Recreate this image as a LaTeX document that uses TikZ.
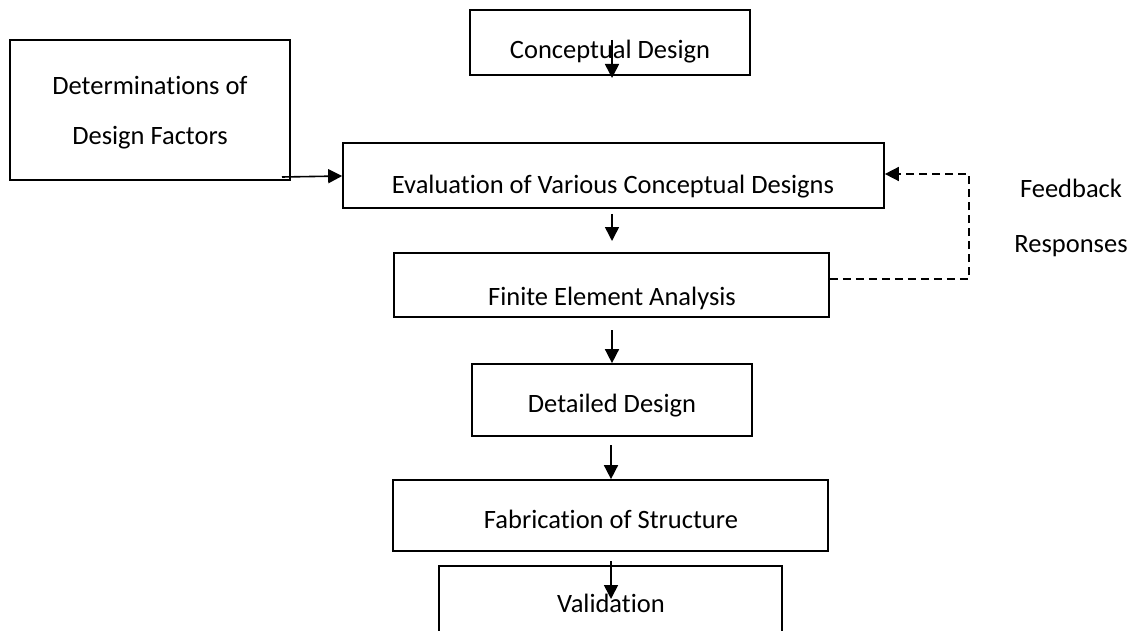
\documentclass[tikz,border=0pt]{standalone}
\usepackage{fontspec}
\setmainfont{Carlito}[Ligatures={NoCommon}]
\usetikzlibrary{arrows.meta}
\begin{document}
\begin{tikzpicture}[x=1pt,y=-1pt,
  box/.style={draw,line width=1.7pt,rectangle,inner sep=0pt},
  lbl/.style={anchor=base,inner sep=0pt,font=\fontsize{26.5}{32}\selectfont},
  arr/.style={line width=1.6pt,-{Triangle[length=14pt,width=14pt]}},
  fb/.style={line width=1.6pt,dash pattern=on 8pt off 5pt}]
\useasboundingbox (0,0) rectangle (1140,631);
% boxes
\node[box,minimum width=280,minimum height=65] (cd) at (610,42.5) {};
\node[box,minimum width=280,minimum height=140] (det) at (150,110) {};
\node[box,minimum width=541,minimum height=65] (ev) at (613.5,175.5) {};
\node[box,minimum width=435,minimum height=64] (fea) at (611.5,285) {};
\node[box,minimum width=280,minimum height=72] (dd) at (612,400) {};
\node[box,minimum width=435,minimum height=71] (fab) at (610.5,515.5) {};
\node[box,minimum width=343,minimum height=100] (val) at (610.5,616) {};
% texts
\node[lbl] (tcd) at (610,59) {Conceptual Design};
\node[lbl] (tdet1) at (150,95) {Determinations of};
\node[lbl] (tdet2) at (150,145) {Design Factors};
\node[lbl] (tev) at (613,194) {Evaluation of Various Conceptual Designs};
\node[lbl] (tfea) at (612,305) {Finite Element Analysis};
\node[lbl] (tdd) at (612,412) {Detailed Design};
\node[lbl] (tfab) at (611,528) {Fabrication of Structure};
\node[lbl] (tval) at (611,612) {Validation};
\node[lbl] (tfb1) at (1071,197) {Feedback};
\node[lbl] (tfb2) at (1071,252) {Responses};
% connector end points
\coordinate (a1s) at (612,40);
\coordinate (a1e) at (612,78);
\coordinate (a2s) at (282,177);
\coordinate (a3s) at (612,214);
\coordinate (a3e) at (612,241);
\coordinate (a4s) at (612,330);
\coordinate (a5s) at (611,445);
\coordinate (a6s) at (611,561);
\coordinate (a6e) at (611,599);
\coordinate (fbr) at (969,279);
\coordinate (fbt) at (969,174);
% arrows
\draw[arr] (a1s) -- (a1e);
\draw[arr] (a2s) -- (ev.west |- 0,176);
\draw[arr] (a3s) -- (a3e);
\draw[arr] (a4s) -- (a4s |- dd.north);
\draw[arr] (a5s) -- (a5s |- fab.north);
\draw[arr] (a6s) -- (a6e);
\draw[fb] (fea.east |- fbr) -- (fbr) -- (fbt) -- (fbt -| 897,0);
\draw[arr] (fbt -| 898,0) -- (ev.east |- fbt);
\end{tikzpicture}
\end{document}
